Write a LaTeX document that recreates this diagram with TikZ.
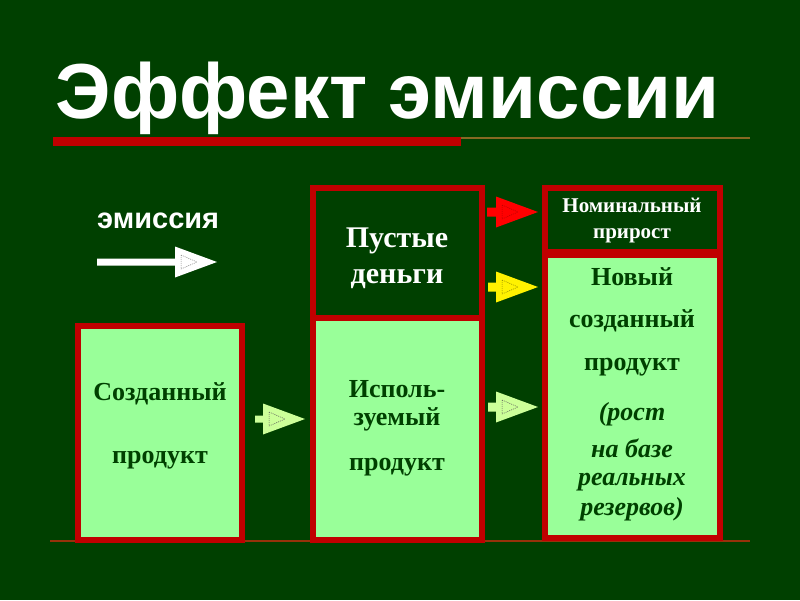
\documentclass[tikz,border=0pt]{standalone}
\usepackage{fontspec}
\setmainfont{Liberation Serif}
\newfontfamily\titlefont{Liberation Sans}
\definecolor{bg}{RGB}{0,64,0}
\definecolor{boxred}{RGB}{192,0,0}
\definecolor{lightfill}{RGB}{153,255,153}
\definecolor{txtgreen}{RGB}{0,64,0}
\definecolor{arrowlg}{RGB}{204,255,153}
\definecolor{thinline}{RGB}{135,105,35}
\definecolor{bottomline}{RGB}{150,50,10}
\newcommand\BlkArrow[5]{% #1 tip, #2 total length, #3 shaft half thickness, #4 fill, #5 dash colour
\begin{scope}[shift={(#1)}]
 \fill[#4] (-#2,-#3) -- (-42,-#3) -- (-42,-15.5) -- (0,0) -- (-42,15.5) -- (-42,#3) -- (-#2,#3) -- cycle;
 \draw[#5, line width=0.5pt, dash pattern=on 1pt off 1pt] (-36,-7) -- (-20,0) -- (-36,7) -- cycle;
\end{scope}}
\tikzset{
  boxdark/.style={draw=boxred, line width=6pt, fill=bg},
  boxlight/.style={draw=boxred, line width=6pt, fill=lightfill},
  txt/.style={inner sep=0pt, anchor=base, font=\bfseries\fontsize{26}{30}\selectfont, text=txtgreen},
  txtw/.style={inner sep=0pt, anchor=base, font=\bfseries\fontsize{30}{32}\selectfont, text=white},
  txtsm/.style={inner sep=0pt, anchor=base, font=\bfseries\fontsize{21}{24}\selectfont, text=white},
  txti/.style={txt, font=\bfseries\itshape\fontsize{26}{30}\selectfont},
}
\begin{document}
\begin{tikzpicture}[x=1pt,y=-1pt]
\fill[bg] (0,0) rectangle (800,600);
\useasboundingbox (0,0) rectangle (800,600);
% title
\node[inner sep=0pt, anchor=base, text=white, font=\titlefont\bfseries\fontsize{78}{80}\selectfont] (title) at (387.5,118) {Эффект эмиссии};
\draw[thinline, line width=2pt] (460,137.5) -- (750,137.5);
\fill[boxred] (53,137) rectangle (461,146);
% bottom line
\draw[bottomline, line width=2pt] (50,540.5) -- (750,540.5);
% emission label and arrow
\node[inner sep=0pt, anchor=base west, text=white, font=\titlefont\bfseries\fontsize{29}{32}\selectfont] (em) at (97,228) {эмиссия};
\coordinate (emtip) at (217,262);
\BlkArrow{emtip}{120}{3.5}{white}{gray}
% box 1
\draw[boxlight] (78,326) rectangle (242,540);
\node[txt] (b1a) at (160,400) {Созданный};
\node[txt] (b1b) at (160,463) {продукт};
% box 2
\draw[boxlight] (313,318) rectangle (482,540);
\draw[boxdark] (313,188) rectangle (482,318);
\node[txtw] (b2a) at (397,247) {Пустые};
\node[txtw] (b2b) at (397,283) {деньги};
\node[txt] (b2c) at (397,397) {Исполь-};
\node[txt] (b2d) at (397,425) {зуемый};
\node[txt] (b2e) at (397,470) {продукт};
% box 3
\draw[boxlight] (545,255) rectangle (720,538);
\draw[boxdark] (545,188) rectangle (720,252);
\node[txtsm] (b3a) at (632,212) {Номинальный};
\node[txtsm] (b3b) at (632,238) {прирост};
\node[txt] (b3c) at (632,285) {Новый};
\node[txt] (b3d) at (632,327) {созданный};
\node[txt] (b3e) at (632,370) {продукт};
\node[txti] (b3f) at (632,420) {(рост};
\node[txti] (b3g) at (632,457) {на базе};
\node[txti] (b3h) at (632,485) {реальных};
\node[txti] (b3i) at (632,515) {резервов)};
% arrows
\coordinate (a1) at (305,419);
\BlkArrow{a1}{50}{3.5}{arrowlg}{gray!70!black}
\coordinate (a2) at (538,212);
\BlkArrow{a2}{51}{4.5}{red}{red!70!black}
\coordinate (a3) at (538,287);
\BlkArrow{a3}{50}{4.5}{yellow}{olive}
\coordinate (a4) at (538,407);
\BlkArrow{a4}{50}{4.5}{arrowlg}{gray!70!black}
\end{tikzpicture}
\end{document}
